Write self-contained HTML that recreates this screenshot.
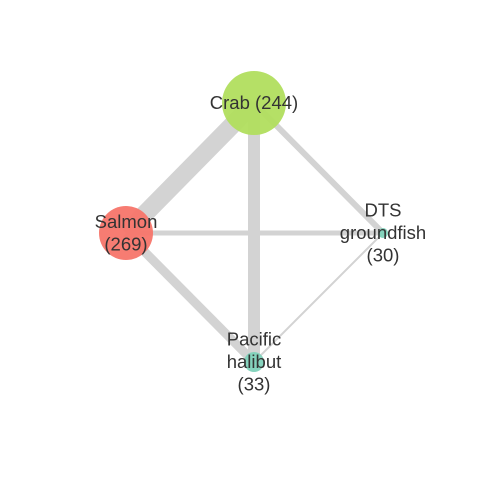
<!DOCTYPE html>
<html><head><meta charset="utf-8"><style>body{margin:0;background:#fff}svg{display:block}text{font-family:"Liberation Sans",sans-serif;font-size:18.5px;fill:#333;text-anchor:middle}</style></head>
<body>
<svg id="chart" width="480" height="480"></svg>
<script>
const nodeNames = ["Crab","Salmon","DTS groundfish","Pacific halibut"];
const nodeValues = [244,269,30,33];
const nodeSizes = [32,27,5,10];
const nodeX = [254,126,383,254];
const nodeY = [103,233,233,362];
const nodeColors = ["#b1de5e","#f7756a","#7fd2ba","#7fd2ba"];
const edgeFrom = [0,0,1,0,1,2];
const edgeTo = [1,3,3,2,2,3];
const edgeWeights = [18,12,9,6,5,2];
const labelLines = [["Crab (244)"],["Salmon","(269)"],["DTS","groundfish","(30)"],["Pacific","halibut","(33)"]];
const NS="http://www.w3.org/2000/svg", svg=document.getElementById('chart');
edgeFrom.forEach((f,i)=>{const t=edgeTo[i];const l=document.createElementNS(NS,'line');
l.setAttribute('x1',nodeX[f]);l.setAttribute('y1',nodeY[f]);l.setAttribute('x2',nodeX[t]);l.setAttribute('y2',nodeY[t]);
l.setAttribute('stroke','#d3d3d3');l.setAttribute('stroke-width',edgeWeights[i]);


svg.appendChild(l);});
nodeNames.forEach((n,i)=>{const c=document.createElementNS(NS,'circle');
c.setAttribute('cx',nodeX[i]);c.setAttribute('cy',nodeY[i]);c.setAttribute('r',nodeSizes[i]);c.setAttribute('fill',nodeColors[i]);c.setAttribute('opacity','0.95');


svg.appendChild(c);});
nodeNames.forEach((n,i)=>{const L=labelLines[i];const t=document.createElementNS(NS,'text');


L.forEach((s,j)=>{const ts=document.createElementNS(NS,'tspan');ts.setAttribute('x',nodeX[i]);
ts.setAttribute('y',nodeY[i]+6+(j-(L.length-1)/2)*22.5);ts.textContent=s;t.appendChild(ts);});
svg.appendChild(t);});
</script>
</body></html>
